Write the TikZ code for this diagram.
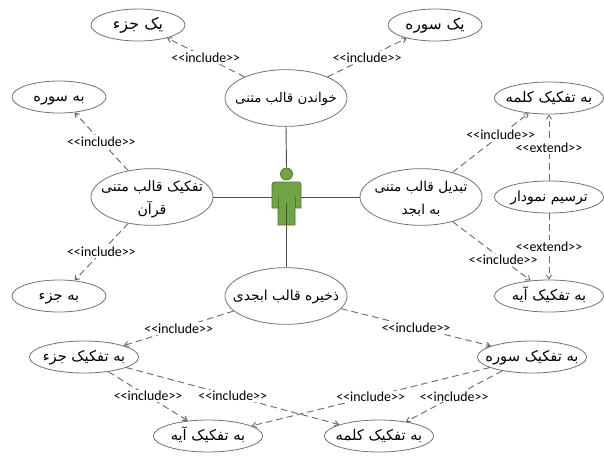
\documentclass[tikz,border=0pt]{standalone}
\usepackage{fontspec}
\setmainfont{Carlito}
\TeXXeTstate=1
\newfontfamily\arabicfont[Script=Arabic]{DejaVu Sans}
\usetikzlibrary{shapes.geometric,arrows.meta}
\newcommand{\fa}[1]{\arabicfont\fontsize{#1}{14}\selectfont}
\newcommand{\zw}[1]{\smash{\raisebox{-3.2pt}{\makebox[0pt][c]{#1}}}}
\newcommand{\zwl}[1]{\smash{\raisebox{-4.5pt}{\makebox[0pt][c]{#1}}}}
\definecolor{actorfill}{HTML}{6FA544}
\definecolor{actorline}{HTML}{4E7A2E}
\tikzset{
  x=0.75pt,y=-0.75pt,
  usecase/.style={ellipse,draw=black!55,line width=0.6pt,fill=white,inner sep=0pt,align=center},
  small/.style={usecase,minimum width=70.5pt,minimum height=24pt},
  wide/.style={usecase,minimum width=82pt,minimum height=24pt},
  big/.style={usecase,minimum width=91.5pt,minimum height=42.5pt},
  assoc/.style={draw=black!70,line width=0.7pt},
  dep/.style={draw=black!58,line width=0.7pt,dash pattern=on 5pt off 3pt,-{Straight Barb[length=3pt,width=4pt]}},
  lab/.style={fill=white,inner sep=1pt,font=\fontsize{10.4}{11}\selectfont},
}
\begin{document}
\begin{tikzpicture}
\useasboundingbox (0,0) rectangle (604,455);
\node[small] (yj) at (138,25) {\zw{\fa{12}\beginR یک جزء\endR}};
\node[small] (ys) at (435,25) {\zw{\fa{11.5}\beginR یک سوره\endR}};
\node[big] (read) at (286,98) {\zw{\fa{10}\beginR خواندن قالب متنی\endR}};
\node[small] (bs) at (59,97) {\zw{\fa{11}\beginR به سوره\endR}};
\node[big] (split) at (152,197) {\zwl{\fa{10.6}\beginR تفکیک قالب متنی\endR}\\[5pt]\zwl{\fa{10.6}\beginR قرآن\endR}};
\node[big] (conv) at (421,197) {\zwl{\fa{10.2}\beginR تبدیل قالب متنی\endR}\\[5pt]\zwl{\fa{10.2}\beginR به ابجد\endR}};
\node[wide] (rk) at (549,98) {\zw{\fa{11}\beginR به تفکیک کلمه\endR}};
\node[wide] (chart) at (549,197) {\zw{\fa{10.5}\beginR ترسیم نمودار\endR}};
\node[wide] (ra) at (549,296) {\zw{\fa{11}\beginR به تفکیک آیه\endR}};
\node[small] (bj) at (59,296) {\zw{\fa{11}\beginR به جزء\endR}};
\node[big] (store) at (286,296) {\zw{\fa{10.4}\beginR ذخیره قالب ابجدی\endR}};
\node[wide] (tj) at (84,357) {\zw{\fa{11}\beginR به تفکیک جزء\endR}};
\node[wide] (ts) at (532,357) {\zw{\fa{11}\beginR به تفکیک سوره\endR}};
\node[wide] (ta) at (208,436) {\zw{\fa{11}\beginR به تفکیک آیه\endR}};
\node[wide] (tk) at (379,436) {\zw{\fa{11}\beginR به تفکیک کلمه\endR}};
% actor
\node[circle,fill=actorfill,draw=actorline,line width=0.6pt,minimum size=9pt,inner sep=0pt] (head) at (286.5,174) {};
\node[rectangle,minimum width=21.75pt,minimum height=42pt,inner sep=0pt] (figure) at (286.5,197) {};
\coordinate (crotch) at (286,203);
\draw[assoc] (read.south) -- (head.north);
\draw[assoc] (split.east) -- (figure.west);
\draw[assoc] (conv.west) -- (figure.east);
\filldraw[fill=actorfill,draw=actorline,line width=0.6pt]
  (275,182) -- (298,182) [rounded corners=2pt] -- (301,182) [sharp corners] -- (301,208) -- (295,208) -- (295,225) -- (278,225) -- (278,208) -- (272,208) [rounded corners=2pt] -- (272,182) [sharp corners] -- cycle;
\draw[actorline,line width=0.6pt] (278,197) -- (278,208) (295,197) -- (295,208);
\draw[assoc] (crotch) -- (store.north);
% dependencies
\draw[dep] (read.153) -- node[lab,pos=.5] (l1) {<{}<include>{}>} (yj.336);
\draw[dep] (read.27) -- node[lab,pos=.5] (l2) {<{}<include>{}>} (ys.205.6);
\draw[dep] (split.132.8) -- node[lab,pos=.5] (l3) {<{}<include>{}>} (bs.315);
\draw[dep] (split.228.4) -- node[lab,pos=.5] (l4) {<{}<include>{}>} (bj.45);
\draw[dep] (chart.north) -- node[lab,pos=.5] (l6) {<{}<extend>{}>} (rk.south);
\draw[dep] (chart.south) -- node[lab,pos=.5] (l7) {<{}<extend>{}>} (ra.north);
\draw[dep] (conv.38.9) -- node[lab,pos=.633] (l5) {<{}<include>{}>} (rk.217.9);
\draw[dep] (conv.322.3) -- node[lab,pos=.65] (l8) {<{}<include>{}>} (ra.140.2);
\draw[dep] (store.196.7) -- node[lab,pos=.5] (l9) {<{}<include>{}>} (tj.16.1);
\draw[dep] (store.347) -- node[lab,pos=.5] (l10) {<{}<include>{}>} (ts.165.3);
\draw[dep] (tj.329.7) -- node[lab,pos=.5] (l11) {<{}<include>{}>} (ta.143.1);
\draw[dep] (ts.194.7) -- node[lab,pos=.5] (l13) {<{}<include>{}>} (ta.13.4);
\draw[dep] (tj.346.3) -- node[lab,pos=.5] (l12) {<{}<include>{}>} (tk.164.6);
\draw[dep] (ts.205.7) -- node[lab,pos=.5] (l14) {<{}<include>{}>} (tk.28.3);
\end{tikzpicture}
\end{document}
